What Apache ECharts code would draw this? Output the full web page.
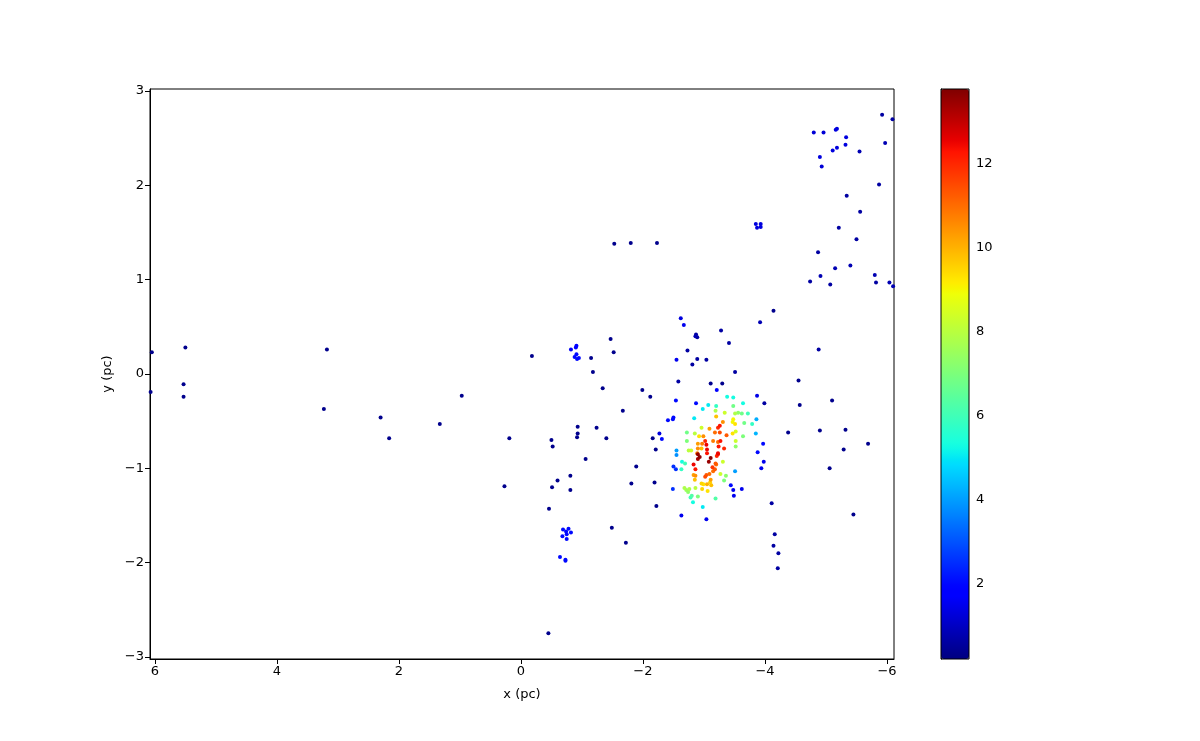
<!DOCTYPE html>
<html>
<head>
<meta charset="utf-8">
<script src="https://cdn.jsdelivr.net/npm/echarts@6/dist/echarts.min.js"></script>
<style>
  html, body { margin: 0; padding: 0; background: #fff; }
  #chart { width: 1200px; height: 741px; }
</style>
</head>
<body>
<div id="chart"></div>
<script>
// x (pc), y (pc) and colour value of each star
var xs = [
  6.05, 5.50, 5.53, 5.53, 6.07, 3.18, 3.23, 2.30, 2.16, 1.33, 0.97, -0.18, 0.19, 0.27,
  -1.47, -1.52, -1.15, -1.18, -1.34, -1.99, -2.12, -1.67, -0.50, -0.52, -0.93, -0.93, -0.92,
  -1.24, -1.40, -2.16, -2.27, -2.21, -1.06, -1.89, -0.60, -0.51, -0.81, -0.81, -1.81, -2.19,
  -0.46, -2.22, -1.49, -1.72, -0.45, -1.53, -1.80, -2.23, -4.14, -3.92, -2.62, -2.67, -2.87,
  -2.86, -2.89, -3.28, -3.41, -2.73, -2.55, -2.81, -2.89, -3.04, -3.51, -2.58, -3.11, -3.30,
  -3.21, -4.55, -3.87, -3.99, -4.57, -5.10, -4.38, -4.90, -5.32, -5.69, -5.29, -5.06, -3.97,
  -3.88, -3.98, -3.94, -3.62, -4.11, -5.45, -4.16, -4.14, -4.22, -4.21, -2.54, -2.41, -2.49,
  -2.50, -2.31, -2.50, -2.54, -2.49, -3.44, -3.48, -3.49, -2.63, -3.04,
  -5.92, -6.09, -4.80, -4.96, -5.16, -5.18, -5.33, -5.97, -5.18, -5.11, -5.32, -5.55, -4.90,
  -4.93, -5.87, -5.34, -5.56, -3.85, -3.93, -3.87, -3.93, -5.21, -5.50, -4.87, -5.15, -5.40,
  -5.80, -4.91, -4.74, -5.07, -5.82, -6.04, -6.10, -4.88,
  -0.69, -0.78, -0.74, -0.82, -0.75, -0.68, -0.75, -0.64, -0.73, -0.73,
  -0.82, -0.90, -0.91, -0.91, -0.88, -0.92, -0.95,
  -3.38, -3.48, -2.87, -3.07, -3.20, -3.64, -2.98, -3.48, -3.19, -3.34, -3.51, -3.56, -3.62,
  -3.72, -2.84, -3.20, -3.31, -3.47, -3.51, -3.48, -3.66, -3.79, -3.86, -2.96, -3.09, -3.18,
  -3.26, -3.26, -3.23, -3.37, -3.47, -3.52, -3.64, -3.85, -2.72, -2.85, -2.92, -2.99, -3.02,
  -3.15, -3.23, -3.27, -2.72, -2.97, -2.90, -3.04, -3.52, -3.52, -2.90, -2.96, -3.05, -3.24,
  -3.33, -2.55, -2.55, -2.75, -2.79, -2.89, -3.05, -3.23, -2.90, -2.93, -2.90, -3.23, -3.21,
  -3.11, -3.08, -3.31, -3.19, -3.20, -3.14, -3.18, -3.15, -2.83, -2.64, -2.69, -2.63, -2.86,
  -3.09, -3.04, -3.02, -3.27, -3.36, -3.51, -2.83, -2.86, -2.85, -3.11, -3.10, -3.33, -2.96,
  -2.99, -3.05, -3.12, -2.68, -2.71, -2.76, -2.74, -2.86, -2.97, -3.06, -2.80, -2.78, -2.90,
  -3.19, -2.82, -2.98
];
var ys = [
  0.23, 0.28, -0.11, -0.24, -0.19, 0.26, -0.37, -0.46, -0.68, -0.53, -0.23, 0.19, -0.68, -1.19,
  0.37, 0.23, 0.17, 0.02, -0.15, -0.17, -0.24, -0.39, -0.70, -0.77, -0.56, -0.63, -0.67,
  -0.57, -0.68, -0.68, -0.63, -0.80, -0.90, -0.98, -1.13, -1.20, -1.08, -1.23, -1.16, -1.15,
  -1.43, -1.40, -1.63, -1.79, -2.75, 1.38, 1.39, 1.39, 0.67, 0.55, 0.59, 0.52, 0.42,
  0.40, 0.39, 0.46, 0.33, 0.25, 0.15, 0.10, 0.16, 0.15, 0.02, -0.08, -0.10, -0.10,
  -0.17, -0.07, -0.23, -0.31, -0.33, -0.28, -0.62, -0.60, -0.59, -0.74, -0.80, -1.00, -0.74,
  -0.83, -0.93, -1.00, -1.22, -1.37, -1.49, -1.70, -1.82, -1.90, -2.06, -0.28, -0.49, -0.48,
  -0.46, -0.69, -0.98, -1.01, -1.22, -1.18, -1.23, -1.29, -1.50, -1.54,
  2.75, 2.70, 2.56, 2.56, 2.59, 2.60, 2.51, 2.45, 2.40, 2.37, 2.43, 2.36, 2.30,
  2.20, 2.01, 1.89, 1.72, 1.59, 1.59, 1.55, 1.56, 1.55, 1.43, 1.29, 1.12, 1.15,
  1.05, 1.04, 0.98, 0.95, 0.97, 0.97, 0.93, 0.26,
  -1.65, -1.64, -1.67, -1.68, -1.70, -1.72, -1.75, -1.94, -1.97, -1.98,
  0.26, 0.28, 0.30, 0.21, 0.18, 0.16, 0.17,
  -0.24, -0.25, -0.31, -0.33, -0.34, -0.31, -0.37, -0.34, -0.39, -0.41, -0.42, -0.41, -0.42,
  -0.42, -0.47, -0.45, -0.51, -0.51, -0.53, -0.48, -0.52, -0.53, -0.48, -0.57, -0.58, -0.62,
  -0.62, -0.55, -0.57, -0.65, -0.63, -0.61, -0.66, -0.63, -0.62, -0.63, -0.66, -0.66, -0.71,
  -0.71, -0.72, -0.71, -0.71, -0.74, -0.74, -0.75, -0.71, -0.77, -0.79, -0.79, -0.80, -0.77,
  -0.79, -0.81, -0.86, -0.81, -0.81, -0.84, -0.84, -0.84, -0.85, -0.88, -0.90, -0.85, -0.87,
  -0.89, -0.93, -0.93, -0.95, -0.96, -0.99, -1.01, -1.03, -0.96, -0.93, -0.95, -1.01, -1.01,
  -1.06, -1.07, -1.09, -1.06, -1.08, -1.03, -1.07, -1.08, -1.12, -1.12, -1.15, -1.13, -1.16,
  -1.17, -1.17, -1.18, -1.21, -1.23, -1.22, -1.25, -1.21, -1.22, -1.24, -1.29, -1.31, -1.30,
  -1.32, -1.36, -1.41
];
var cs = [
  0.35, 0.35, 0.35, 0.35, 0.35, 0.35, 0.35, 0.35, 0.35, 0.35, 0.35, 0.35, 0.35, 0.35,
  0.35, 0.35, 0.35, 0.35, 0.35, 0.35, 0.35, 0.35, 0.35, 0.35, 0.35, 0.35, 0.35,
  0.35, 0.35, 0.35, 1.3, 0.35, 0.35, 0.35, 0.35, 0.35, 0.35, 0.35, 0.35, 0.35,
  0.35, 0.35, 0.35, 0.35, 0.35, 0.35, 0.35, 0.35, 0.35, 0.8, 1.3, 1.5, 0.6,
  0.8, 0.6, 0.6, 0.6, 0.6, 1.5, 0.6, 0.6, 0.6, 0.6, 0.6, 0.35, 0.35,
  1.8, 0.35, 1.4, 0.6, 0.35, 0.35, 0.35, 0.35, 0.35, 0.35, 0.35, 0.35, 2.0,
  2.0, 1.5, 1.5, 1.5, 0.6, 0.35, 0.6, 0.6, 0.6, 0.6, 2.0, 2.0, 2.0,
  2.0, 2.0, 2.5, 2.5, 2.5, 2.0, 1.5, 1.5, 1.5, 1.5,
  0.6, 0.6, 1.2, 1.2, 1.3, 1.3, 1.3, 0.8, 1.3, 1.3, 1.3, 0.8, 1.3,
  1.2, 0.6, 0.6, 0.6, 1.3, 1.3, 1.3, 1.3, 0.6, 0.6, 0.6, 0.8, 0.8,
  0.8, 0.8, 0.6, 0.6, 0.6, 0.8, 0.8, 0.6,
  2.0, 2.0, 2.0, 2.0, 2.0, 2.0, 2.0, 2.0, 2.0, 2.0,
  1.6, 1.8, 1.8, 2.0, 2.0, 2.0, 2.0,
  5.3, 5.3, 2.0, 5.0, 5.8, 5.3, 5.0, 6.8, 7.8, 8.3, 7.8, 7.3, 6.8,
  6.0, 5.0, 9.8, 10.5, 9.0, 9.3, 9.0, 6.8, 5.8, 4.2, 8.3, 10.3, 11.0,
  11.5, 12.3, 12.0, 11.3, 9.3, 8.5, 7.0, 4.3, 6.8, 8.0, 9.3, 10.5, 12.0,
  10.8, 11.0, 12.3, 7.0, 10.8, 10.3, 12.5, 8.3, 7.3, 10.5, 9.8, 12.5, 12.3,
  12.0, 4.0, 3.8, 8.0, 8.3, 10.8, 12.3, 12.5, 13.5, 13.6, 13.3, 12.3, 12.0,
  13.7, 13.5, 8.3, 11.3, 11.0, 11.8, 11.3, 11.0, 12.5, 5.3, 6.0, 5.8, 12.3,
  11.0, 11.3, 11.5, 8.3, 7.3, 4.0, 10.3, 10.5, 9.8, 10.3, 9.5, 7.0, 9.5,
  9.3, 10.0, 9.8, 7.8, 7.5, 7.8, 7.3, 8.0, 9.5, 9.3, 6.3, 6.0, 7.0,
  6.3, 5.3, 5.0
];
var xTicks = [-6, -4, -2, 0, 2, 4, 6];
var yTicks = [-3, -2, -1, 0, 1, 2, 3];
var cTicks = [2, 4, 6, 8, 10, 12];
var cMin = 0.19, cMax = 13.79;

// matplotlib 'jet'
function seg(pts, t) {
  for (var i = 1; i < pts.length; i++) {
    if (t <= pts[i][0]) {
      var a = pts[i - 1], b = pts[i];
      return a[1] + (b[1] - a[1]) * (t - a[0]) / (b[0] - a[0]);
    }
  }
  return pts[pts.length - 1][1];
}
function jet(t) {
  var r = seg([[0, 0], [0.35, 0], [0.66, 1], [0.89, 1], [1, 0.5]], t);
  var g = seg([[0, 0], [0.125, 0], [0.375, 1], [0.64, 1], [0.91, 0], [1, 0]], t);
  var b = seg([[0, 0.5], [0.11, 1], [0.34, 1], [0.65, 0], [1, 0]], t);
  return 'rgb(' + Math.round(r * 255) + ',' + Math.round(g * 255) + ',' + Math.round(b * 255) + ')';
}
var jetColors = [];
for (var i = 0; i <= 100; i++) jetColors.push(jet(i / 100));

var pts = xs.map(function (x, i) { return [x, ys[i], cs[i]]; });
pts.sort(function (a, b) { return a[2] - b[2]; });

var minus = function (v) { return String(v).replace('-', '\u2212'); };
var font = 'DejaVu Sans';

var chart = echarts.init(document.getElementById('chart'));
chart.setOption({
  animation: false,
  textStyle: { fontFamily: font },
  grid: [
    { left: 150, top: 89, width: 744, height: 570, show: true, borderColor: '#000', borderWidth: 1 },
    { left: 941, top: 89, width: 28, height: 570, show: true, borderColor: '#000', borderWidth: 1,
      backgroundColor: 'transparent', z: 10 }
  ],
  xAxis: [{
    type: 'value', inverse: true, min: -6.115, max: 6.08,
    name: 'x (pc)', nameLocation: 'middle', nameGap: 29,
    nameTextStyle: { color: '#000', fontSize: 13, fontFamily: font },
    axisLine: { show: true, onZero: false, lineStyle: { color: '#000' } },
    axisTick: { show: true, length: 5, customValues: xTicks, lineStyle: { color: '#000' } },
    axisLabel: { customValues: xTicks, color: '#000', fontSize: 13, margin: 6, formatter: minus },
    splitLine: { show: false }
  }, {
    gridIndex: 1, type: 'value', show: false, min: 0, max: 1
  }],
  yAxis: [{
    type: 'value', min: -3.022, max: 3.022,
    name: 'y (pc)', nameLocation: 'middle', nameGap: 36,
    nameTextStyle: { color: '#000', fontSize: 13, fontFamily: font },
    axisLine: { show: true, onZero: false, lineStyle: { color: '#000' } },
    axisTick: { show: true, length: 5, customValues: yTicks, lineStyle: { color: '#000' } },
    axisLabel: { customValues: yTicks, color: '#000', fontSize: 13, margin: 6, formatter: minus },
    splitLine: { show: false }
  }, {
    gridIndex: 1, type: 'value', position: 'right', min: cMin, max: cMax,
    axisLine: { show: true, lineStyle: { color: '#000' } },
    axisTick: { show: true, length: 5, customValues: cTicks, lineStyle: { color: '#000' } },
    axisLabel: { customValues: cTicks, color: '#000', fontSize: 13, margin: 7 },
    splitLine: { show: false }
  }],
  visualMap: {
    type: 'continuous', min: cMin, max: cMax, dimension: 2, seriesIndex: 0,
    calculable: false, hoverLink: false, show: true,
    left: 941, top: 89, itemWidth: 28, itemHeight: 570, padding: 0,
    inRange: { color: jetColors }
  },
  series: [{
    type: 'scatter',
    data: pts,
    symbolSize: 4,
    itemStyle: { opacity: 1 },
    emphasis: { disabled: true },
    clip: true
  }]
});
</script>
</body>
</html>
